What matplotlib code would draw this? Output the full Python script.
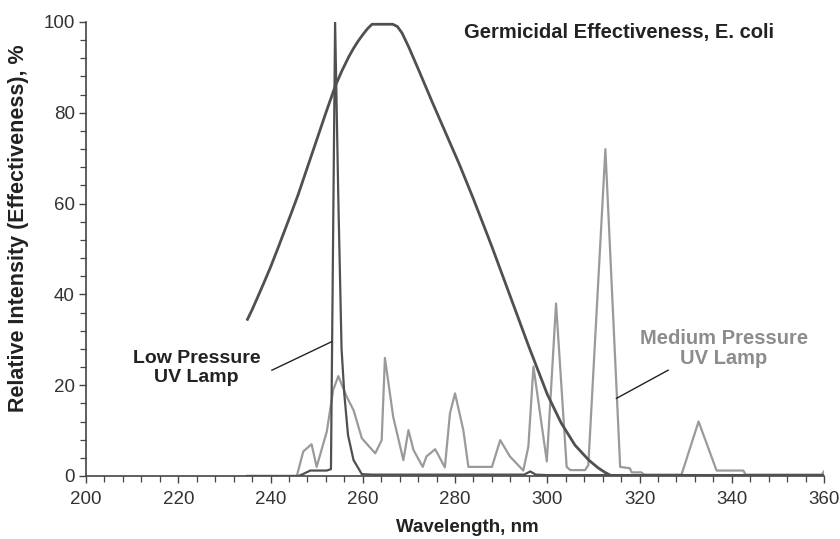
import matplotlib
matplotlib.use("Agg")
import matplotlib.pyplot as plt
from matplotlib.ticker import MultipleLocator

plt.rcParams['font.family'] = ['Liberation Sans', 'DejaVu Sans']

# germicidal effectiveness curve (E. coli)
germ_wl = [235, 236, 237, 238.5, 240, 241.5, 243, 244.5, 246, 248, 250, 252, 254, 255.5,
           257, 258, 259, 260, 261, 262, 266.5, 267.5, 268.5, 270, 272, 275,
           278, 281, 284, 288, 292, 296, 300, 303, 306, 309, 311, 312.5, 314]
germ_val = [34.5, 36.6, 38.9, 42.4, 46, 49.9, 53.9, 57.9, 62, 68, 74, 80, 85.8, 89.3,
            92.4, 94.2, 95.8, 97.2, 98.5, 99.5, 99.5, 99, 97.6, 94.4, 89.7, 82.5,
            75.5, 68.5, 61, 50.5, 39.5, 28.5, 18, 11.7, 6.8, 3.5, 1.8, 0.8, 0]

# low pressure lamp
low_wl = [235, 246, 247, 248.6, 252.2, 253.1, 254.0, 254.7, 255.4, 256.0, 256.8, 258,
          259.8, 262, 295, 296.3, 297.5, 300, 360]
low_val = [0, 0, 0.4, 1.2, 1.2, 1.5, 100, 61, 28, 18, 9, 3.5,
           0.4, 0.3, 0.3, 1, 0.3, 0.2, 0.2]

# medium pressure lamp
med_wl = [235, 245.7, 247.1, 248.9, 250, 252.2, 253.6, 254.7, 256.5, 258, 259.8, 262.7,
          264.1, 264.8, 266.6, 268.8, 269.9, 271, 273, 273.8, 275.7, 277.8, 278.9, 280,
          281.8, 282.9, 288, 289.8, 291.9, 294.8, 295.9, 297, 299.9, 301.9, 304.2, 305,
          308.2, 308.9, 312.6, 315.8, 317.9, 318.3, 320.4, 321, 329.1, 332.8, 336.7,
          342.5, 343, 359.5, 360]
med_val = [0, 0, 5.4, 7, 2, 9.8, 19, 22, 17.5, 14.5, 8.3, 5,
           7.9, 26, 13, 3.5, 10.1, 5.7, 2, 4.3, 5.9, 1.9, 13.8, 18.2,
           10.1, 2, 2, 7.9, 4.3, 1.2, 6.5, 24.1, 3.2, 38, 2, 1.3,
           1.3, 2.4, 72, 2, 1.7, 0.8, 0.8, 0.3, 0.3, 12, 1.2,
           1.2, 0.3, 0.3, 1]

dark = '#505050'
light = '#9a9a9a'

fig = plt.figure(figsize=(8.4, 5.39), dpi=100)
ax = fig.add_axes([0.1024, 0.1169, 0.8786, 0.8423])

ax.plot(med_wl, med_val, color=light, lw=1.6, zorder=2)
ax.plot(low_wl, low_val, color=dark, lw=1.6, zorder=3)
ax.plot(germ_wl, germ_val, color=dark, lw=2.0, zorder=4, solid_joinstyle='round')

ax.set_xlim(200, 360)
ax.set_ylim(0, 100)
ax.xaxis.set_major_locator(MultipleLocator(20))
ax.xaxis.set_minor_locator(MultipleLocator(4))
ax.yaxis.set_major_locator(MultipleLocator(20))
ax.yaxis.set_minor_locator(MultipleLocator(4))

for s in ['top', 'right']:
    ax.spines[s].set_visible(False)
for s in ['left', 'bottom']:
    ax.spines[s].set_color('#444444')
    ax.spines[s].set_linewidth(1.2)

ax.tick_params(axis='both', which='major', direction='out', length=5, width=1,
               color='#444444', labelsize=13.5, labelcolor='#333333')
ax.tick_params(axis='both', which='minor', direction='out', length=4, width=0.9,
               color='#444444')
ax.tick_params(axis='x', which='major', pad=6)
ax.tick_params(axis='y', which='major', pad=3)

ax.set_xlabel('Wavelength, nm', fontsize=13.5, fontweight='bold', color='#222222')
ax.set_ylabel('Relative Intensity (Effectiveness), %', fontsize=15.5, fontweight='bold',
              color='#222222')
ax.xaxis.set_label_coords(0.516, -0.095)
ax.yaxis.set_label_coords(-0.077, 0.546)

ax.text(315.5, 97.6, 'Germicidal Effectiveness, E. coli', fontsize=14.5, fontweight='bold',
        color='#222222', ha='center', va='center')
ax.text(224, 23.8, 'Low Pressure\nUV Lamp', fontsize=14, fontweight='bold',
        color='#222222', ha='center', va='center', linespacing=1.1)
ax.text(338.3, 28, 'Medium Pressure\nUV Lamp', fontsize=14.5, fontweight='bold',
        color='#8c8c8c', ha='center', va='center', linespacing=1.05)

ax.plot([240.3, 253.3], [23.3, 29.6], color='#222222', lw=1.0, zorder=5)
ax.plot([326.2, 315.0], [23.3, 17.1], color='#222222', lw=1.0, zorder=5)

fig.savefig('out.png', dpi=100)
